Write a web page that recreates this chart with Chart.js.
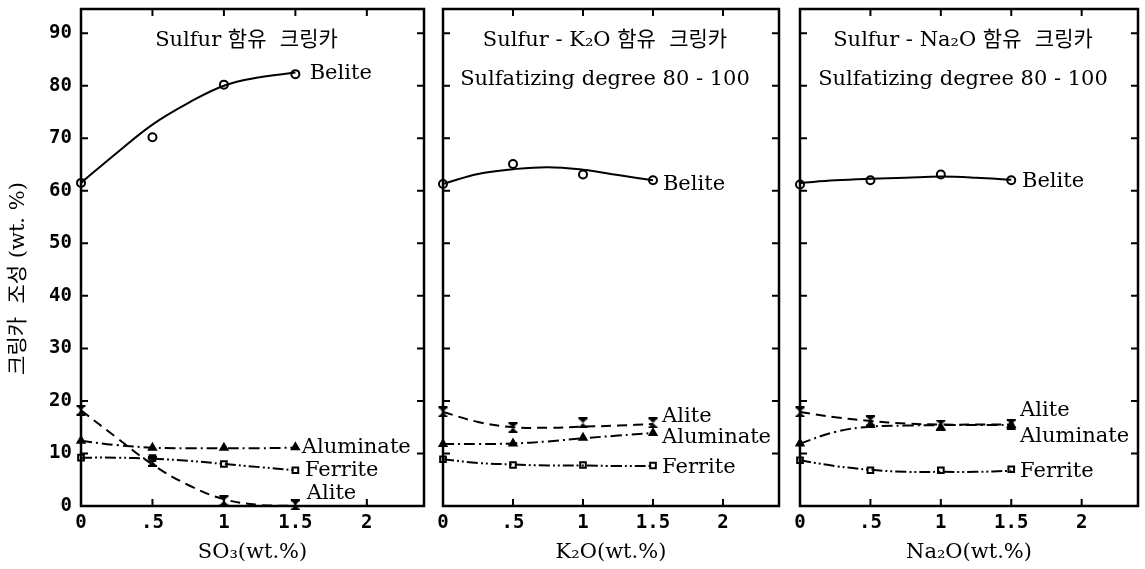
<!DOCTYPE html>
<html>
<head>
<meta charset="utf-8">
<script src="https://cdn.jsdelivr.net/npm/chart.js@4"></script>
<style>
  body { margin: 0; background: #fff; }
  .wrap { position: relative; width: 1145px; height: 569px; overflow: hidden; }
  canvas { position: absolute; top: 0; }
</style>
</head>
<body>
<div class="wrap">
  <canvas id="p1" width="432" height="569" style="left:0"></canvas>
  <canvas id="p2" width="358" height="569" style="left:432px"></canvas>
  <canvas id="p3" width="355" height="569" style="left:790px"></canvas>
</div>
<script>
// x positions of measured points and of the drawn curves
const xPoints = [0, 0.5, 1, 1.5];
const xFit = [0, 0.25, 0.5, 0.75, 1, 1.25, 1.5];
const xTicks = [0, 0.5, 1, 1.5, 2];
const xTickLabels = ['0', '.5', '1', '1.5', '2'];
const yTicks = [0, 10, 20, 30, 40, 50, 60, 70, 80, 90];

// SO3 panel
const so3Belite = [61.5, 70.2, 80.2, 82.2];
const so3BeliteFit = [61.5, 67.2, 72.6, 76.7, 80.0, 81.6, 82.5];
const so3Alite = [18.2, 8.5, 1.0, 0.2];
const so3AliteFit = [18.2, 13.0, 7.9, 4.0, 1.3, 0.2, 0];
const so3Aluminate = [12.4, 11.1, 11.1, 11.2];
const so3AluminateFit = [12.4, 11.6, 11.1, 11.0, 11.0, 11.0, 11.1];
const so3Ferrite = [9.2, 9.1, 8.0, 6.8];
const so3FerriteFit = [9.2, 9.2, 9.0, 8.6, 8.0, 7.4, 6.8];

// K2O panel
const k2oBelite = [61.3, 65.1, 63.1, 62.0];
const k2oBeliteFit = [61.3, 63.2, 64.1, 64.5, 64.0, 63.0, 62.0];
const k2oAlite = [17.9, 14.9, 15.8, 15.8];
const k2oAliteFit = [17.9, 16.0, 15.0, 14.9, 15.1, 15.3, 15.6];
const k2oAluminate = [11.8, 11.9, 13.0, 13.9];
const k2oAluminateFit = [11.8, 11.8, 11.9, 12.3, 12.9, 13.4, 13.9];
const k2oFerrite = [8.9, 7.8, 7.8, 7.7];
const k2oFerriteFit = [8.9, 8.2, 7.9, 7.7, 7.7, 7.6, 7.6];

// Na2O panel
const na2oBelite = [61.2, 62.0, 63.1, 62.0];
const na2oBeliteFit = [61.5, 62.0, 62.3, 62.5, 62.7, 62.5, 62.1];
const na2oAlite = [17.9, 16.2, 15.4, 15.5];
const na2oAliteFit = [17.9, 16.9, 16.2, 15.7, 15.5, 15.5, 15.5];
const na2oAluminate = [11.9, 15.4, 14.9, 15.4];
const na2oAluminateFit = [11.9, 14.1, 15.1, 15.3, 15.4, 15.4, 15.4];
const na2oFerrite = [8.7, 6.8, 6.8, 7.0];
const na2oFerriteFit = [8.7, 7.6, 6.9, 6.5, 6.5, 6.5, 6.7];

const serif = "'DejaVu Serif', 'Noto Sans CJK KR', serif";
const mono = "'DejaVu Sans Mono', monospace";

function hourglass() {
    const c = document.createElement('canvas');
    c.width = 11; c.height = 11;
    const g = c.getContext('2d');
    g.fillStyle = '#000';
    g.beginPath(); g.moveTo(1, 1); g.lineTo(10, 1); g.lineTo(5.5, 5.5); g.closePath(); g.fill();
    g.beginPath(); g.moveTo(1, 10); g.lineTo(10, 10); g.lineTo(5.5, 5.5); g.closePath(); g.fill();
    g.fillRect(1, 0, 9, 2); g.fillRect(1, 9, 9, 2);
    return c;
}

const styles = {
    Belite: { dash: [], point: 'circle', fill: '#fff', radius: 4 },
    Alite: { dash: [10, 6], point: hourglass(), fill: '#000', radius: 5 },
    Aluminate: { dash: [11, 4, 2, 4], point: 'triangle', fill: '#000', radius: 4 },
    Ferrite: { dash: [11, 3, 2, 3, 2, 3], point: 'rect', fill: '#fff', radius: 4 }
};

function seriesSets(name, points, fit) {
    const s = styles[name];
    return [{
        label: name + ' fit',
        data: xFit.map((x, i) => ({ x: x, y: fit[i] })),
        showLine: true,
        borderColor: '#000',
        borderWidth: 2,
        borderDash: s.dash,
        tension: 0.4,
        pointRadius: 0
    }, {
        label: name,
        data: xPoints.map((x, i) => ({ x: x, y: points[i] })),
        showLine: false,
        pointStyle: s.point,
        pointRadius: s.radius,
        pointBorderWidth: 2,
        pointBorderColor: '#000',
        pointBackgroundColor: s.fill,
        clip: false
    }];
}

const framePlugin = {
    id: 'frame',
    afterDraw(chart, args, opts) {
        const { ctx, chartArea: a, scales: { x, y } } = chart;
        ctx.save();
        ctx.strokeStyle = '#000';
        ctx.lineWidth = 2.5;
        ctx.strokeRect(a.left, a.top, a.right - a.left, a.bottom - a.top);

        // inward tick marks on all four sides
        ctx.lineWidth = 2;
        const t = 7;
        ctx.beginPath();
        yTicks.forEach(v => {
            if (v === 0) return;
            const py = y.getPixelForValue(v);
            ctx.moveTo(a.left, py); ctx.lineTo(a.left + t, py);
            ctx.moveTo(a.right, py); ctx.lineTo(a.right - t, py);
        });
        xTicks.forEach(v => {
            if (v === 0) return;
            const px = x.getPixelForValue(v);
            ctx.moveTo(px, a.top); ctx.lineTo(px, a.top + t);
            ctx.moveTo(px, a.bottom); ctx.lineTo(px, a.bottom - t);
        });
        ctx.stroke();

        // panel headings
        ctx.fillStyle = '#000';
        ctx.textAlign = 'center';
        ctx.textBaseline = 'middle';
        ctx.font = '21px ' + serif;
        const cx = (a.left + a.right) / 2 - 6;
        opts.titles.forEach((line, i) => {
            ctx.fillText(line, cx, a.top + 32 + i * 39);
        });

        // curve names
        ctx.textAlign = 'left';
        opts.labels.forEach(l => {
            ctx.fillText(l.text, x.getPixelForValue(l.x), y.getPixelForValue(l.y));
        });

        // y-axis title, only on the first panel
        if (opts.yTitle) {
            ctx.translate(19, y.getPixelForValue(43.3));
            ctx.rotate(-Math.PI / 2);
            ctx.textAlign = 'center';
            ctx.font = '21px ' + serif;
            ctx.fillText(opts.yTitle, 0, 0);
        }
        ctx.restore();
    }
};

function makePanel(id, cfg) {
    const datasets = [].concat(
        seriesSets('Belite', cfg.belite, cfg.beliteFit),
        seriesSets('Alite', cfg.alite, cfg.aliteFit),
        seriesSets('Aluminate', cfg.aluminate, cfg.aluminateFit),
        seriesSets('Ferrite', cfg.ferrite, cfg.ferriteFit)
    );
    return new Chart(document.getElementById(id).getContext('2d'), {
        type: 'scatter',
        data: { datasets: datasets },
        options: {
            responsive: false,
            animation: false,
            layout: { padding: { top: 9, bottom: 0, left: cfg.padLeft, right: cfg.padRight } },
            plugins: {
                legend: { display: false },
                tooltip: { enabled: false },
                frame: { titles: cfg.titles, labels: cfg.labels, yTitle: cfg.yTitle }
            },
            scales: {
                x: {
                    type: 'linear',
                    min: 0,
                    max: 2.4,
                    grid: { display: false, drawTicks: false },
                    border: { display: false },
                    afterBuildTicks: scale => { scale.ticks = xTicks.map(v => ({ value: v })); },
                    afterFit: scale => {
                        scale.height = 63;
                        scale.paddingLeft = 0;
                        scale.paddingRight = 0;
                    },
                    ticks: {
                        color: '#000',
                        padding: 6,
                        maxRotation: 0,
                        font: { family: mono, size: 19, weight: 'bold' },
                        callback: v => xTickLabels[xTicks.indexOf(v)]
                    },
                    title: {
                        display: true,
                        text: cfg.xTitle,
                        color: '#000',
                        padding: { top: 0, bottom: 4 },
                        font: { family: serif, size: 21 }
                    }
                },
                y: {
                    type: 'linear',
                    display: cfg.showY,
                    min: 0,
                    max: 94.6,
                    grid: { display: false, drawTicks: false },
                    border: { display: false },
                    afterBuildTicks: scale => { scale.ticks = yTicks.map(v => ({ value: v })); },
                    afterFit: scale => {
                        scale.width = cfg.showY ? 81 : 0;
                        scale.paddingTop = 0;
                        scale.paddingBottom = 0;
                    },
                    ticks: {
                        color: '#000',
                        padding: 9,
                        font: { family: mono, size: 19, weight: 'bold' }
                    }
                }
            }
        },
        plugins: [framePlugin]
    });
}

makePanel('p1', {
    padLeft: 0, padRight: 8, showY: true,
    xTitle: 'SO₃(wt.%)',
    yTitle: '크링카  조성 (wt. %)',
    titles: ['Sulfur 함유  크링카'],
    belite: so3Belite, beliteFit: so3BeliteFit,
    alite: so3Alite, aliteFit: so3AliteFit,
    aluminate: so3Aluminate, aluminateFit: so3AluminateFit,
    ferrite: so3Ferrite, ferriteFit: so3FerriteFit,
    labels: [
        { text: 'Belite', x: 1.6, y: 82.3 },
        { text: 'Aluminate', x: 1.545, y: 11.1 },
        { text: 'Ferrite', x: 1.567, y: 6.7 },
        { text: 'Alite', x: 1.58, y: 2.3 }
    ]
});

makePanel('p2', {
    padLeft: 11, padRight: 11, showY: false,
    xTitle: 'K₂O(wt.%)',
    titles: ['Sulfur - K₂O 함유  크링카', 'Sulfatizing degree 80 - 100'],
    belite: k2oBelite, beliteFit: k2oBeliteFit,
    alite: k2oAlite, aliteFit: k2oAliteFit,
    aluminate: k2oAluminate, aluminateFit: k2oAluminateFit,
    ferrite: k2oFerrite, ferriteFit: k2oFerriteFit,
    labels: [
        { text: 'Belite', x: 1.571, y: 61.2 },
        { text: 'Alite', x: 1.565, y: 17.1 },
        { text: 'Aluminate', x: 1.565, y: 13.0 },
        { text: 'Ferrite', x: 1.565, y: 7.4 }
    ]
});

makePanel('p3', {
    padLeft: 10, padRight: 6, showY: false,
    xTitle: 'Na₂O(wt.%)',
    titles: ['Sulfur - Na₂O 함유  크링카', 'Sulfatizing degree 80 - 100'],
    belite: na2oBelite, beliteFit: na2oBeliteFit,
    alite: na2oAlite, aliteFit: na2oAliteFit,
    aluminate: na2oAluminate, aluminateFit: na2oAluminateFit,
    ferrite: na2oFerrite, ferriteFit: na2oFerriteFit,
    labels: [
        { text: 'Belite', x: 1.576, y: 61.8 },
        { text: 'Alite', x: 1.563, y: 18.1 },
        { text: 'Aluminate', x: 1.563, y: 13.3 },
        { text: 'Ferrite', x: 1.563, y: 6.5 }
    ]
});
</script>
</body>
</html>
